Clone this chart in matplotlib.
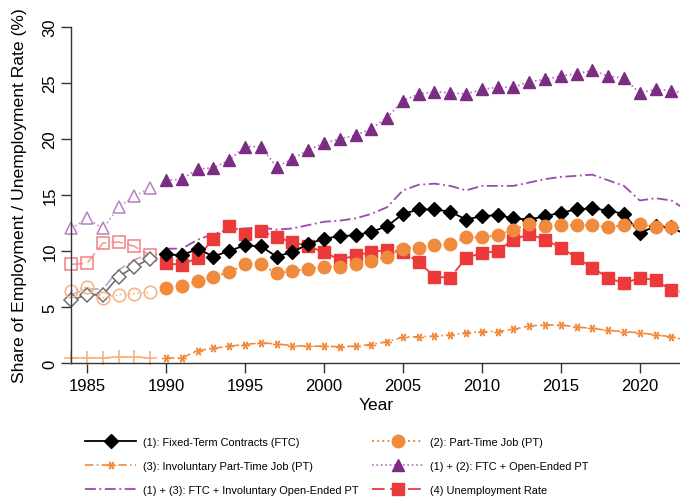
import numpy as np
import matplotlib
matplotlib.use('Agg')
import matplotlib.pyplot as plt

plt.rcParams['font.family'] = ['Liberation Sans', 'DejaVu Sans']

# ---- data ----
years_early = list(range(1984, 1990))
years = list(range(1990, 2024))   # 2023 only continues the line to the edge

ftc_early = [5.6, 6.1, 6.1, 7.7, 8.6, 9.3]
ftc = [9.7, 9.6, 10.2, 9.5, 10.0, 10.5, 10.4, 9.5, 9.9, 10.6,
       11.1, 11.3, 11.4, 11.7, 12.2, 13.3, 13.7, 13.7, 13.5, 12.8,
       13.1, 13.2, 12.9, 12.8, 13.1, 13.4, 13.7, 13.8, 13.6, 13.3,
       11.6, 12.2, 12.1, 11.4]

pt_early = [6.4, 6.8, 5.8, 6.1, 6.2, 6.3]
pt = [6.7, 6.9, 7.3, 7.7, 8.1, 8.8, 8.8, 8.0, 8.2, 8.4,
      8.6, 8.6, 8.8, 9.1, 9.5, 10.2, 10.3, 10.5, 10.6, 11.2,
      11.2, 11.4, 11.9, 12.4, 12.2, 12.3, 12.3, 12.3, 12.1, 12.3,
      12.4, 12.1, 12.1, 12.1]

inv_early = [0.45, 0.45, 0.45, 0.55, 0.55, 0.45]
inv = [0.45, 0.45, 1.1, 1.3, 1.5, 1.65, 1.8, 1.7, 1.55, 1.5,
       1.5, 1.45, 1.5, 1.65, 1.9, 2.3, 2.35, 2.4, 2.5, 2.7,
       2.8, 2.8, 3.0, 3.3, 3.4, 3.4, 3.2, 3.1, 2.9, 2.8,
       2.7, 2.5, 2.35, 2.0]

ftc_pt_early = [12.0, 12.9, 12.0, 13.9, 14.9, 15.6]
ftc_pt = [16.3, 16.4, 17.3, 17.4, 18.1, 19.3, 19.3, 17.5, 18.2, 19.0,
          19.6, 20.0, 20.3, 20.9, 21.9, 23.4, 24.0, 24.2, 24.1, 24.0,
          24.4, 24.6, 24.6, 25.1, 25.3, 25.6, 25.8, 26.1, 25.6, 25.4,
          24.1, 24.4, 24.3, 24.0]

ftc_inv_early = [6.1, 6.6, 6.6, 8.3, 9.2, 9.8]
ftc_inv = [10.2, 10.2, 11.0, 11.5, 11.9, 12.0, 12.1, 11.9, 12.0, 12.3,
           12.6, 12.7, 12.9, 13.3, 13.9, 15.4, 15.9, 16.0, 15.8, 15.4,
           15.8, 15.8, 15.8, 16.1, 16.4, 16.6, 16.7, 16.8, 16.3, 15.8,
           14.5, 14.7, 14.5, 13.6]

unemp_early = [8.8, 8.9, 10.7, 10.8, 10.4, 9.6]
unemp = [8.9, 8.75, 9.4, 11.1, 12.2, 11.5, 11.8, 11.2, 10.8, 10.4,
         9.9, 9.2, 9.6, 9.9, 10.1, 9.9, 9.0, 7.7, 7.6, 9.4,
         9.8, 10.0, 11.0, 11.5, 11.0, 10.3, 9.4, 8.5, 7.6, 7.1,
         7.6, 7.4, 6.5, 6.3]

black = '#000000'
orange = '#F08A3C'
purple = '#7B2C83'
purple_line = '#9A4AAE'
red = '#EC3A3A'

fig = plt.figure(figsize=(6.8, 5.02), dpi=100)
ax = fig.add_axes([0.1049, 0.2749, 0.8951, 0.6699])

me = slice(0, len(years) - 1)

# early years (hollow, faded)
ax.plot(years_early, ftc_inv_early, color='#C9A0D4', ls=(0, (6, 2, 1, 2)), lw=1.2, clip_on=False)
ax.plot(years_early, ftc_pt_early, color='#C08FCC', ls=':', lw=1.2, marker='^', ms=8,
        mfc='white', mec='#B87FC6', mew=1.1, clip_on=False)
ax.plot(years_early, unemp_early, color='#F29A9A', ls=(0, (7, 3)), lw=1.2, marker='s', ms=8.5,
        mfc='none', mec='#F08080', mew=1.1, clip_on=False)
ax.plot(years_early, ftc_early, color='#707070', ls='-', lw=1.2, marker='D', ms=7,
        mfc='white', mec='#707070', mew=1.1, clip_on=False)
ax.plot(years_early, pt_early, color='#F6B98C', ls=':', lw=1.2, marker='o', ms=9,
        mfc='none', mec='#F6B080', mew=1.1, clip_on=False)
ax.plot(years_early, inv_early, color='#F6B080', ls=(0, (5, 2, 1, 2)), lw=1.2, marker='+', ms=10,
        mec='#F6B080', mew=1.2, clip_on=False)

# main period
l_ftc_inv, = ax.plot(years, ftc_inv, color=purple_line, ls=(0, (6, 2, 1, 2)), lw=1.3,
                     label='(1) + (3): FTC + Involuntary Open-Ended PT')
l_ftc_pt, = ax.plot(years, ftc_pt, color='#B36BC4', ls=':', lw=1.2, marker='^', ms=8,
                    mfc=purple, mec=purple, markevery=me, label='(1) + (2): FTC + Open-Ended PT')
l_unemp, = ax.plot(years, unemp, color=red, ls=(0, (7, 3)), lw=1.3, marker='s', ms=8.5,
                   mfc=red, mec=red, markevery=me, label='(4) Unemployment Rate')
l_ftc, = ax.plot(years, ftc, color=black, ls='-', lw=1.3, marker='D', ms=7.5,
                 mfc=black, mec=black, markevery=me, label='(1): Fixed-Term Contracts (FTC)')
l_pt, = ax.plot(years, pt, color=orange, ls=':', lw=1.4, marker='o', ms=9,
                mfc=orange, mec=orange, markevery=me, label='(2): Part-Time Job (PT)')
l_inv, = ax.plot(years, inv, color=orange, ls=(0, (5, 2, 1, 2)), lw=1.2, marker=(6, 2, 90), ms=6,
                 mec=orange, mew=1.0, markevery=me, label='(3): Involuntary Part-Time Job (PT)')

ax.set_xlim(1984, 2022.55)
ax.set_ylim(0, 30)
ax.set_xticks(range(1985, 2021, 5))
ax.set_yticks(range(0, 31, 5))
for s in ['top', 'right']:
    ax.spines[s].set_visible(False)
for s in ['left', 'bottom']:
    ax.spines[s].set_linewidth(1.0)
    ax.spines[s].set_color('#333333')
ax.tick_params(length=7, width=1.0, color='#333333', labelsize=12, pad=3)
ax.tick_params(axis='x', pad=4)
ax.tick_params(axis='y', labelrotation=90)
for lbl in ax.get_yticklabels():
    lbl.set_va('center')

ax.set_xlabel('Year', fontsize=12.5, labelpad=3)
ax.set_ylabel('Share of Employment / Unemployment Rate (%)', fontsize=12.6, labelpad=11)

handles = [l_ftc, l_inv, l_ftc_inv, l_pt, l_ftc_pt, l_unemp]
fig.legend(handles=handles, loc='upper left', bbox_to_anchor=(0.119, 0.136), ncol=2,
           frameon=False, fontsize=7.9, handlelength=4.65, handletextpad=0.65,
           columnspacing=1.2, labelspacing=1.25, borderaxespad=0)

fig.savefig('out.png', dpi=100)
